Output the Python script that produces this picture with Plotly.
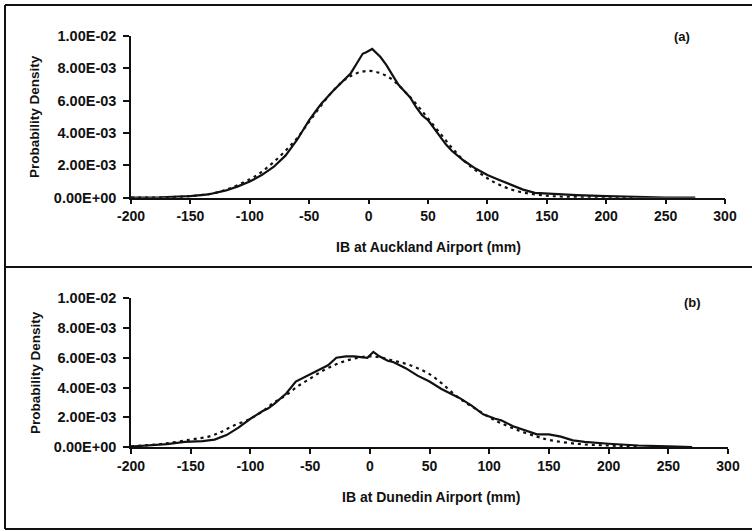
import plotly.graph_objects as go

# ---------------- data ----------------
a_obs_x = [-200, -175, -150, -135, -120, -110, -100, -90, -80, -70, -65, -60, -55, -50, -45, -40,
           -30, -20, -15, -10, -5, -2, 3, 10, 15, 20, 25, 30, 35, 40, 45, 50, 55, 60, 65, 70,
           80, 90, 100, 110, 120, 130, 140, 150, 160, 175, 200, 225, 250, 275]
a_obs_y = [0.0, 0.00002, 0.0001, 0.0002, 0.00045, 0.0007, 0.0010, 0.0014, 0.0019, 0.0026, 0.0031,
           0.0036, 0.0042, 0.0048, 0.0053, 0.0058, 0.0066, 0.0073, 0.0077, 0.0083, 0.0089, 0.0090,
           0.0092, 0.0087, 0.0082, 0.0076, 0.0070, 0.0066, 0.0062, 0.0056, 0.0051, 0.0048, 0.0043,
           0.0038, 0.0033, 0.0029, 0.0023, 0.0018, 0.0014, 0.0011, 0.0008, 0.0005, 0.0003, 0.00025,
           0.0002, 0.00016, 0.0001, 0.00004, 0.00001, 0.0]

a_fit_x = [-200, -175, -150, -125, -100, -90, -80, -70, -60, -50, -40, -30, -20, -10, 0, 10, 20,
           30, 40, 50, 60, 70, 80, 90, 100, 110, 125, 150, 175, 200, 225]
a_fit_y = [0.0, 0.00002, 0.0001, 0.00037, 0.00114, 0.0016, 0.0022, 0.0029, 0.0037, 0.0047, 0.0057,
           0.0066, 0.0073, 0.0077, 0.00784, 0.0077, 0.0073, 0.0066, 0.0058, 0.0049, 0.0040, 0.0031,
           0.0023, 0.0017, 0.0012, 0.0008, 0.0004, 0.00012, 0.00003, 0.00001, 0.0]

b_obs_x = [-200, -185, -170, -155, -140, -130, -120, -110, -100, -90, -85, -80, -70, -62, -55, -45,
           -35, -28, -20, -13, -5, -2, 3, 8, 15, 20, 30, 40, 50, 60, 70, 75, 85, 95, 105, 110, 120,
           130, 140, 150, 160, 170, 180, 200, 225, 250, 270]
b_obs_y = [0.00003, 0.0001, 0.0002, 0.00035, 0.0004, 0.0005, 0.0008, 0.0013, 0.0019, 0.0024,
           0.0026, 0.0029, 0.0036, 0.0044, 0.0047, 0.0051, 0.0055, 0.0060, 0.0061, 0.0061, 0.0060,
           0.0060, 0.0064, 0.0061, 0.0058, 0.0057, 0.0053, 0.0048, 0.0044, 0.0039, 0.0035, 0.0033,
           0.0028, 0.0022, 0.0019, 0.0018, 0.0014, 0.0011, 0.00085, 0.00085, 0.0007, 0.00045,
           0.00035, 0.00022, 0.0001, 0.00004, 0.0]

b_fit_x = [-200, -175, -150, -135, -125, -115, -100, -90, -80, -70, -60, -50, -40, -30, -20, -10,
           0, 10, 20, 30, 40, 50, 60, 70, 80, 90, 100, 110, 125, 140, 150, 175, 200, 225]
b_fit_y = [0.00005, 0.0002, 0.0005, 0.0007, 0.0010, 0.0014, 0.0019, 0.0024, 0.0030, 0.0035,
           0.0041, 0.0046, 0.0051, 0.0055, 0.0058, 0.0060, 0.0061, 0.0060, 0.0058, 0.0056, 0.0053,
           0.0049, 0.0043, 0.0036, 0.0030, 0.0025, 0.0020, 0.0016, 0.0011, 0.0007, 0.00048,
           0.0002, 0.0001, 0.00003]

x_ticks = [-200, -150, -100, -50, 0, 50, 100, 150, 200, 250, 300]
y_ticks = [0.0, 0.002, 0.004, 0.006, 0.008, 0.010]
y_tick_text = ["0.00E+00", "2.00E-03", "4.00E-03", "6.00E-03", "8.00E-03", "1.00E-02"]

# ---------------- layout helpers ----------------
W, H = 752, 531
L, R, T, B = 131, 24, 36, 84
PW, PH = W - L - R, H - T - B


def px(x):
    return (x - L) / PW


def py(y):
    return (H - B - y) / PH


FONT = "Liberation Sans"
BLACK = "#111111"

fig = go.Figure()
fig.add_trace(go.Scatter(x=a_obs_x, y=a_obs_y, mode="lines", line=dict(color=BLACK, width=2.2),
                         xaxis="x", yaxis="y", showlegend=False))
fig.add_trace(go.Scatter(x=a_fit_x, y=a_fit_y, mode="lines", line=dict(color=BLACK, width=2.2, dash="3px,4px"),
                         line_shape="spline", xaxis="x", yaxis="y", showlegend=False))
fig.add_trace(go.Scatter(x=b_obs_x, y=b_obs_y, mode="lines", line=dict(color=BLACK, width=2.2),
                         xaxis="x2", yaxis="y2", showlegend=False))
fig.add_trace(go.Scatter(x=b_fit_x, y=b_fit_y, mode="lines", line=dict(color=BLACK, width=2.2, dash="3px,4px"),
                         line_shape="spline", xaxis="x2", yaxis="y2", showlegend=False))

xax = dict(range=[-200, 300], tickvals=x_ticks, ticktext=[str(v) for v in x_ticks],
           showline=True, linecolor=BLACK, linewidth=1.5, ticks="outside", ticklen=5,
           tickwidth=1.5, tickcolor=BLACK, showgrid=False, zeroline=False,
           tickfont=dict(family=FONT, size=14, color=BLACK, weight="bold"))
yax = dict(range=[0, 0.0100001], tickvals=y_ticks, ticktext=y_tick_text,
           showline=True, linecolor=BLACK, linewidth=1.5, ticks="outside", ticklen=6,
           tickwidth=1.5, tickcolor=BLACK, showgrid=False, zeroline=False, ticklabelstandoff=4,
           tickfont=dict(family=FONT, size=14.5, color=BLACK, weight="bold"))

top_dom = [py(197.7), 1.0]
bot_dom = [0.0, py(298.3)]

fig.update_layout(
    width=W, height=H,
    margin=dict(l=L, r=R, t=T, b=B),
    paper_bgcolor="white", plot_bgcolor="white",
    xaxis=dict(xax, domain=[0, (725 - L) / PW], anchor="y"),
    yaxis=dict(yax, domain=top_dom, anchor="x"),
    xaxis2=dict(xax, domain=[0, 1], anchor="y2"),
    yaxis2=dict(yax, domain=bot_dom, anchor="x2"),
)

anns = [
    dict(text="Probability Density", x=px(35), y=py(117), textangle=-90, size=13.5),
    dict(text="Probability Density", x=px(35), y=py(373), textangle=-90, size=13.5),
    dict(text="IB at Auckland Airport (mm)", x=px(428), y=py(247), textangle=0, size=14),
    dict(text="IB at Dunedin Airport (mm)", x=px(431), y=py(497), textangle=0, size=14),
    dict(text="(a)", x=px(682), y=py(36), textangle=0, size=13),
    dict(text="(b)", x=px(692), y=py(302), textangle=0, size=13),
]
for a in anns:
    fig.add_annotation(text=a["text"], x=a["x"], y=a["y"], xref="paper", yref="paper",
                       xanchor="center", yanchor="middle", showarrow=False, textangle=a["textangle"],
                       font=dict(family=FONT, size=a["size"], color=BLACK, weight="bold"))

# outer frame lines
frame = [
    (5, 5, W, 5), (5, 5, 5, 529), (5, 529, W, 529), (5, 267, W, 267),
]
for x0, y0, x1, y1 in frame:
    fig.add_shape(type="line", xref="paper", yref="paper", x0=px(x0), y0=py(y0), x1=px(x1), y1=py(y1),
                  line=dict(color=BLACK, width=2))

fig.write_html("out.html")
